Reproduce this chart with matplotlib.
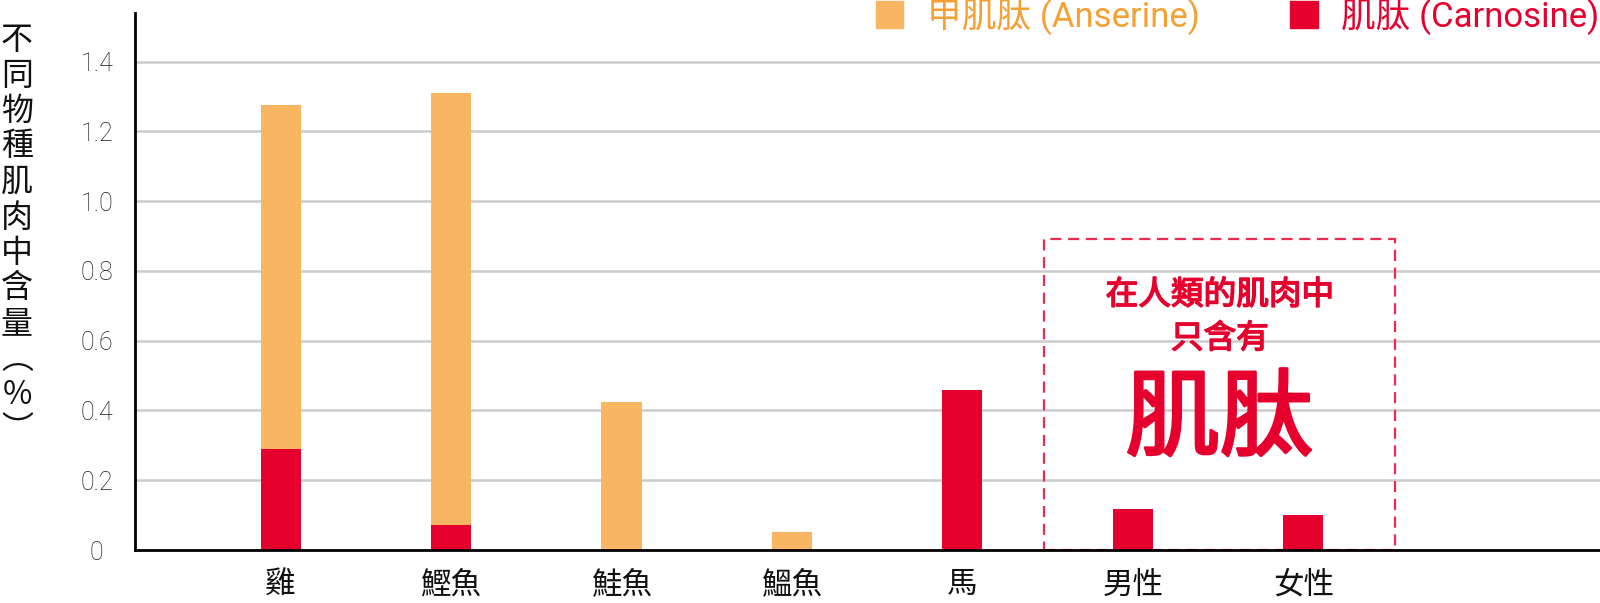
import matplotlib
matplotlib.use("Agg")
import matplotlib.pyplot as plt
import matplotlib.patheffects as pe
from matplotlib.patches import Rectangle, Patch

plt.rcParams["font.family"] = ["Noto Sans CJK TC", "DejaVu Sans"]

# ── Data ──────────────────────────────────────────────────────────────────────
categories = ["雞", "鰹魚", "鮭魚", "鰮魚", "馬", "男性", "女性"]
carnosine = [0.29, 0.073, 0.0, 0.0, 0.458, 0.117, 0.099]
anserine = [0.985, 1.237, 0.423, 0.052, 0.0, 0.0, 0.0]
yticks = [0, 0.2, 0.4, 0.6, 0.8, 1.0, 1.2, 1.4]
ytick_labels = ["0", "0.2", "0.4", "0.6", "0.8", "1.0", "1.2", "1.4"]

ORANGE = "#F8B562"
ORANGE_TXT = "#F5A033"
RED = "#E5002D"
BOX_RED = "#EE2A50"
LATIN_CJK = ["Roboto", "Noto Sans CJK TC", "DejaVu Sans"]

fig = plt.figure(figsize=(16, 6.03), dpi=100)
ax = fig.add_axes([135 / 1600, 1 - 550 / 603, 1 - 135 / 1600, 537 / 603])

x = list(range(len(categories)))
w = 0.235
ax.bar(x, carnosine, width=w, color=RED, zorder=3, linewidth=0)
ax.bar(x, anserine, width=w, bottom=carnosine, color=ORANGE, zorder=3, linewidth=0)

ax.set_xlim(-0.854, 7.74)
ax.set_ylim(0, 1.539)

ax.set_yticks(yticks)
ax.set_yticklabels(ytick_labels, fontsize=18, color="#1a1a1a",
                   family=["Roboto", "DejaVu Sans"], fontweight="light", ha="center")
ax.tick_params(axis="y", length=0, pad=27.5)
ax.set_xticks(x)
ax.set_xticklabels(categories, fontsize=22, color="#111111")
ax.tick_params(axis="x", length=0, pad=14)

ax.yaxis.grid(True, color="#cccccc", linewidth=1.8, zorder=0)
ax.set_axisbelow(True)
for s in ["top", "right"]:
    ax.spines[s].set_visible(False)
ax.spines["left"].set_linewidth(2)
ax.spines["bottom"].set_linewidth(2)
ax.spines["bottom"].set_zorder(4)

# dashed highlight box around the human bars
box = Rectangle((4.48, 0), 6.54 - 4.48, 0.891, fill=False, edgecolor=BOX_RED,
                linewidth=1.6, linestyle=(0, (5, 3)), zorder=2, clip_on=False)
ax.add_patch(box)
thick_small = [pe.withStroke(linewidth=1.1, foreground=RED)]
thick_big = [pe.withStroke(linewidth=2.2, foreground=RED)]
ax.text(5.51, 0.73, "在人類的肌肉中", ha="center", va="center", fontsize=23.5,
        color=RED, zorder=5, path_effects=thick_small)
ax.text(5.51, 0.605, "只含有", ha="center", va="center", fontsize=23.5,
        color=RED, zorder=5, path_effects=thick_small)
ax.text(5.51, 0.37, "肌肽", ha="center", va="center", fontsize=68,
        color=RED, zorder=5, path_effects=thick_big)

# vertical y label
ylabel = "不同物種肌肉中含量︵%︶"
fig.text(17 / 1600, 1 - 24 / 603, "\n".join(ylabel), ha="center", va="top",
         fontsize=23, linespacing=1.14, color="#111111")

# legend
handles = [Patch(color=ORANGE), Patch(color=RED)]
labels = ["甲肌肽 (Anserine)", "肌肽 (Carnosine)"]
fig.legend(handles, labels, loc="upper right", bbox_to_anchor=(1.019, 1.056), ncol=2,
           frameon=False, labelcolor=[ORANGE_TXT, RED],
           handlelength=0.8, handleheight=0.8, handletextpad=0.67, columnspacing=2.6,
           prop={"family": LATIN_CJK, "weight": "normal", "size": 25})

fig.savefig("out.png", dpi=100)
